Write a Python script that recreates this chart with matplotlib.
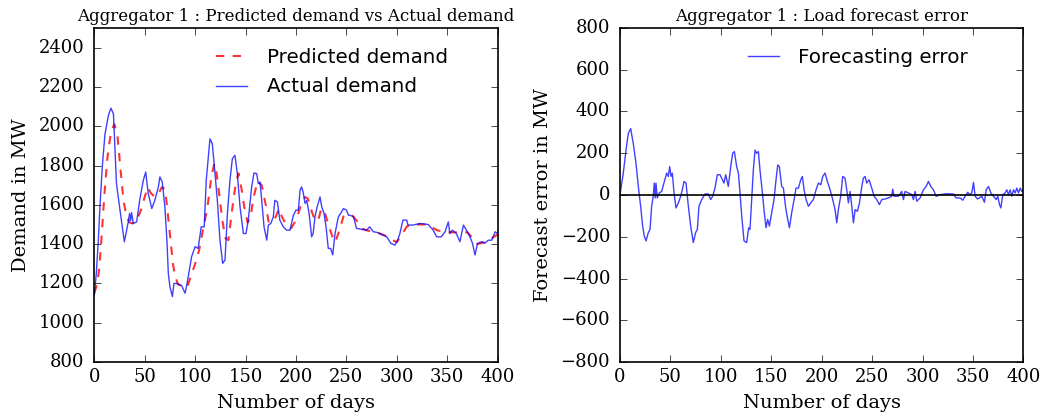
import matplotlib
matplotlib.use("Agg")
import matplotlib.pyplot as plt

# actual demand (MW)
actual_days = [0, 2, 4, 5.6, 8, 10.6, 14, 16.5, 19, 22,
               25.5, 29.8, 33.7, 35, 36, 37, 38.7, 42, 45, 48.6,
               51, 53.5, 57, 60, 63.5, 65, 67.4, 70, 72, 73.4,
               75, 77.4, 79, 81.7, 86.6, 90, 92, 96.5, 100, 103,
               106, 109, 111, 114.7, 117, 119.7, 122, 124.6, 127.3, 129.6,
               132, 134.5, 136.9, 139.5, 141.8, 144.5, 147.8, 150.4, 152.7, 156,
               158.3, 161, 162.6, 164.3, 166, 168.3, 171, 172.6, 175, 177.5,
               179, 181.5, 184, 187.4, 190.7, 194, 197.4, 200, 202.3, 204,
               205.6, 207, 209, 210.6, 213, 215.5, 217, 218.8, 221, 223.8,
               225.5, 227.8, 229.8, 232, 234.4, 236.4, 238.7, 242, 244.3, 247,
               250, 252, 253.6, 257, 260, 270, 273, 276.7, 280, 283,
               290, 294, 298, 300.8, 303, 306, 309.8, 311, 316, 323,
               331, 336, 339.5, 344, 347.8, 351, 352.6, 355, 359, 362.5,
               366, 369, 372.5, 375, 377.5, 380, 384, 387, 390.7, 394,
               397.5, 400]
actual_mw = [1140, 1250, 1420, 1590, 1800, 1960, 2055, 2092, 2063, 1708,
             1573, 1412, 1513, 1556, 1520, 1560, 1505, 1513, 1623, 1725,
             1767, 1657, 1581, 1623, 1690, 1742, 1716, 1590, 1420, 1251,
             1184, 1133, 1200, 1200, 1189, 1150, 1200, 1336, 1387, 1378,
             1488, 1488, 1725, 1936, 1911, 1759, 1623, 1420, 1302, 1319,
             1556, 1725, 1835, 1852, 1759, 1590, 1454, 1454, 1522, 1690,
             1762, 1759, 1708, 1716, 1623, 1488, 1420, 1497, 1505, 1539,
             1623, 1615, 1522, 1488, 1471, 1471, 1547, 1573, 1573, 1674,
             1691, 1666, 1607, 1623, 1556, 1437, 1454, 1539, 1590, 1640,
             1590, 1556, 1488, 1378, 1378, 1345, 1454, 1539, 1556, 1581,
             1573, 1547, 1547, 1539, 1480, 1471, 1488, 1463, 1460, 1454,
             1437, 1404, 1395, 1420, 1454, 1522, 1522, 1497, 1497, 1505,
             1500, 1471, 1437, 1437, 1463, 1513, 1454, 1471, 1454, 1412,
             1497, 1471, 1437, 1404, 1345, 1404, 1412, 1404, 1420, 1420,
             1463, 1454]

# predicted demand (MW)
pred_days = [0, 3, 5, 7, 10, 13, 16, 18, 20, 23,
             26, 29, 32, 35, 38, 42, 46, 50, 53, 56,
             60, 64, 67, 70, 72, 75, 78, 80, 83, 88,
             92, 96, 100, 104, 108, 112, 116, 119, 121, 124,
             127, 130, 133, 136, 140, 143, 146, 149, 152, 155,
             158, 162, 166, 170, 173, 176, 180, 183, 186, 190,
             195, 200, 205, 209, 212, 216, 219, 222, 225, 228,
             232, 236, 239, 243, 247, 251, 256, 260, 265, 270,
             280, 290, 296, 300, 305, 310, 315, 330, 340, 350,
             360, 370, 377, 380, 390, 400]
pred_mw = [1150, 1200, 1280, 1420, 1650, 1840, 1950, 1990, 2010, 1950,
           1780, 1620, 1540, 1510, 1505, 1520, 1570, 1640, 1690, 1660,
           1640, 1660, 1690, 1680, 1600, 1450, 1300, 1240, 1195, 1185,
           1180, 1240, 1300, 1370, 1480, 1580, 1740, 1810, 1770, 1650,
           1520, 1430, 1420, 1550, 1700, 1760, 1680, 1580, 1510, 1540,
           1640, 1720, 1700, 1600, 1510, 1510, 1540, 1580, 1540, 1500,
           1480, 1520, 1600, 1640, 1630, 1560, 1520, 1520, 1580, 1570,
           1500, 1440, 1410, 1470, 1540, 1550, 1545, 1520, 1480, 1470,
           1460, 1440, 1420, 1410, 1450, 1490, 1500, 1500, 1470, 1460,
           1460, 1460, 1420, 1400, 1415, 1450]

# forecast error (MW)
err_days = [0, 3.3, 6, 8.3, 10.6, 13.2, 15.9, 18.2, 20.5, 22.5,
            24.1, 25.8, 28.1, 29.8, 31.4, 33, 34, 35, 35.7, 37,
            39, 41.3, 43.6, 46.3, 47.9, 49.3, 50.6, 51.9, 53.6, 55.5,
            57.9, 60.2, 61.8, 63.5, 65.5, 67.8, 70.1, 72.7, 75, 76.7,
            78.3, 81, 84.3, 87.6, 89.9, 91.9, 94.2, 96.5, 99.2, 101.5,
            103.1, 104.8, 107.4, 109.8, 111.7, 113.4, 115.7, 117.4, 119, 120.7,
            123, 125.6, 127.6, 128.9, 130.6, 132.2, 133.9, 135.5, 137.2, 138.8,
            141.2, 143.1, 144.8, 146.4, 148.1, 150.4, 152.7, 154.7, 156.4, 158,
            160.3, 162, 164.3, 166.3, 168, 170.2, 172.6, 174.5, 176.9, 179.2,
            180.8, 182.5, 184.5, 186.8, 189.1, 191.7, 194.4, 196.7, 199, 201,
            203.3, 205.6, 208.3, 210.9, 213.2, 214.9, 216.5, 218.8, 220.8, 223.1,
            224.8, 226.4, 228.1, 229.8, 231.4, 233.1, 235.4, 237.4, 239.7, 241.3,
            243, 244.6, 246.9, 249.6, 251.9, 254.5, 257.2, 259.5, 262.8, 266.1,
            269.4, 270.4, 271.7, 276, 279.3, 281, 282.6, 285.9, 289.3, 290.9,
            292.6, 294.2, 297.5, 300.8, 303.5, 305.8, 308.1, 310.7, 313.4, 317.4,
            324, 330.6, 333.2, 337.2, 339.8, 342.1, 344.8, 346.4, 348.8, 350.4,
            352.1, 354.4, 356.4, 358.7, 361.3, 363, 365.3, 367.6, 370.2, 372.9,
            374.5, 376.2, 377.5, 379.5, 381.8, 383.5, 385.1, 386.8, 388.4, 390.1,
            391.7, 393.4, 395, 396.7, 398.3, 400]
err_mw = [0, 105, 215, 295, 318, 247, 152, 41, -54, -149,
          -196, -220, -180, -165, -54, -6, 57, -14, 57, -14,
          10, 17, 57, 105, 89, 136, 89, 105, 10, -62,
          -38, -6, 25, 65, 57, -54, -149, -228, -180, -165,
          -54, -22, 5, 5, -22, -6, 33, 97, 97, 73,
          57, 97, 41, 136, 200, 208, 136, 105, 10, -101,
          -220, -228, -157, -165, -22, 120, 215, 200, 208, 120,
          10, -86, -157, -117, -149, -86, -22, 73, 144, 136,
          41, 33, -62, -117, -157, -86, -22, 33, 33, 73,
          89, 25, -22, -54, -38, -22, 25, 57, 49, 89,
          105, 65, 25, -22, -70, -133, -70, -6, 89, 81,
          25, -38, 17, -54, -133, -70, -78, -38, 41, 81,
          89, 57, 73, 33, -6, -22, -46, -22, -19, -14,
          -6, 28, -6, -6, 17, -22, 17, 10, 2, -22,
          17, -30, -14, 25, 41, 65, 41, 25, -6, 2,
          6, 5, -14, -14, -25, -6, 13, 2, 10, 60,
          -6, -19, -14, -6, -35, 25, 41, 10, -6, -22,
          -6, -46, -62, 2, 10, 25, 2, 25, -6, 25,
          10, 33, 10, 33, 17, 25]

plt.style.use('classic')
plt.rcParams['axes.linewidth'] = 1.2

TICK_FS = 13
LABEL_FS = 14
TITLE_FS = 12
LEG_FS = 14.3

fig = plt.figure(figsize=(10.43, 4.16), dpi=100, facecolor='white')
ax1 = fig.add_axes([0.0904, 0.1298, 0.3868, 0.8029])
ax2 = fig.add_axes([0.5944, 0.1298, 0.3869, 0.8029])

ax1.plot(pred_days, pred_mw, color='r', linestyle='--', linewidth=1.5,
         alpha=0.8, label='Predicted demand')
ax1.plot(actual_days, actual_mw, color='b', linewidth=1.0, alpha=0.75,
         label='Actual demand')
ax1.set_xlim(0, 400)
ax1.set_ylim(800, 2500)
ax1.set_yticks(range(800, 2401, 200))
ax1.set_xticks(range(0, 401, 50))
ax1.set_title('Aggregator 1 : Predicted demand vs Actual demand',
              family='DejaVu Serif', fontsize=TITLE_FS)
ax1.set_xlabel('Number of days', family='DejaVu Serif', fontsize=LABEL_FS,
               labelpad=6)
ax1.set_ylabel('Demand in MW', family='DejaVu Serif', fontsize=LABEL_FS,
               labelpad=6)

ax2.plot(err_days, err_mw, color='b', linewidth=1.0, alpha=0.75,
         label='Forecasting error')
ax2.axhline(0, color='k', linewidth=1.2)
ax2.set_xlim(0, 400)
ax2.set_ylim(-800, 800)
ax2.set_yticks(range(-800, 801, 200))
ax2.set_xticks(range(0, 401, 50))
ax2.set_title('Aggregator 1 : Load forecast error',
              family='DejaVu Serif', fontsize=TITLE_FS)
ax2.set_xlabel('Number of days', family='DejaVu Serif', fontsize=LABEL_FS,
               labelpad=6)
ax2.set_ylabel('Forecast error in MW', family='DejaVu Serif', fontsize=LABEL_FS,
               labelpad=6)

for ax in (ax1, ax2):
    ax.tick_params(direction='in', length=5, top=True, right=True)
    ax.tick_params(axis='y', pad=7)
    for lab in ax.get_xticklabels() + ax.get_yticklabels():
        lab.set_family('DejaVu Serif')
        lab.set_fontsize(TICK_FS)
    ax.legend(loc='upper center', bbox_to_anchor=(0.59, 0.995), frameon=False,
              prop={'family': 'DejaVu Sans', 'size': LEG_FS},
              handlelength=1.55, handletextpad=1.0, labelspacing=0.55,
              numpoints=1)

fig.savefig('out.png', dpi=100, facecolor='white')
